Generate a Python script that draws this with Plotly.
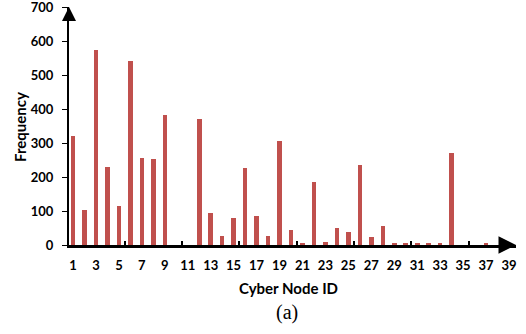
import plotly.graph_objects as go

node_ids = list(range(1, 40))
frequency = [320, 103, 575, 230, 115, 543, 255, 252, 384, 0,
             0, 371, 95, 26, 80, 228, 85, 26, 305, 43,
             6, 186, 8, 50, 39, 235, 25, 55, 3, 5,
             3, 3, 5, 270, 0, 0, 5, 0, 0]
x_tick_vals = list(range(1, 40, 2))
y_tick_vals = list(range(0, 701, 100))
group_ticks = [5.5, 10.5, 15.5, 20.5, 25.5, 30.5, 35.5]

fig = go.Figure(go.Bar(x=node_ids, y=frequency, width=0.4,
                       marker=dict(color="#C0504D", line=dict(width=0))))

font_main = dict(family="Lato", size=13, color="black", weight="bold")
font_title = dict(family="Lato", size=15, color="black", weight="bold")

fig.update_layout(
    width=526, height=334,
    margin=dict(l=69, r=10, t=7, b=89),
    plot_bgcolor="white", paper_bgcolor="white",
    showlegend=False,
    bargap=0,
)
fig.update_xaxes(
    range=[0.651, 39.61], tickvals=x_tick_vals, ticktext=[str(v) for v in x_tick_vals],
    showline=True, linecolor="black", linewidth=2.5, showgrid=False, zeroline=False,
    ticks="", ticklabelstandoff=7, tickfont=font_main, automargin=False,
    ticklabeloverflow="allow",
    minor=dict(tickvals=group_ticks, ticks="inside", ticklen=4, tickwidth=2, tickcolor="black", showgrid=False),
)
fig.update_yaxes(
    range=[0, 700.5], tickvals=y_tick_vals,
    showline=True, linecolor="black", linewidth=2, showgrid=False, zeroline=False,
    ticks="outside", ticklen=5, tickwidth=1, tickcolor="black", ticklabelstandoff=6,
    tickfont=font_main, automargin=False, ticklabeloverflow="allow",
)

# axis arrows
fig.add_annotation(x=0, y=1, xref="paper", yref="paper", ax=0, ay=14, text="",
                   showarrow=True, arrowhead=2, arrowsize=1.4, arrowwidth=2, arrowcolor="black", standoff=0)
fig.add_annotation(x=1, y=0, xref="paper", yref="paper", ax=-14, ay=0, text="",
                   showarrow=True, arrowhead=2, arrowsize=1.4, arrowwidth=2.5, arrowcolor="black", standoff=0)

fig.add_annotation(x=-0.1096, y=0.496, xref="paper", yref="paper", text="Frequency",
                   showarrow=False, xanchor="center", yanchor="middle", textangle=-90,
                   font=font_title)
fig.add_annotation(x=0.49, y=-0.181, xref="paper", yref="paper", text="Cyber Node ID",
                   showarrow=False, xanchor="center", yanchor="middle",
                   font=font_title)
fig.add_annotation(x=0.488, y=-0.285, xref="paper", yref="paper", text="(a)",
                   showarrow=False, xanchor="center", yanchor="middle",
                   font=dict(family="Liberation Serif", size=20, color="black"))

fig.write_html("out.html", config={"displayModeBar": False},
               post_script="document.body.style.margin='0px';")
